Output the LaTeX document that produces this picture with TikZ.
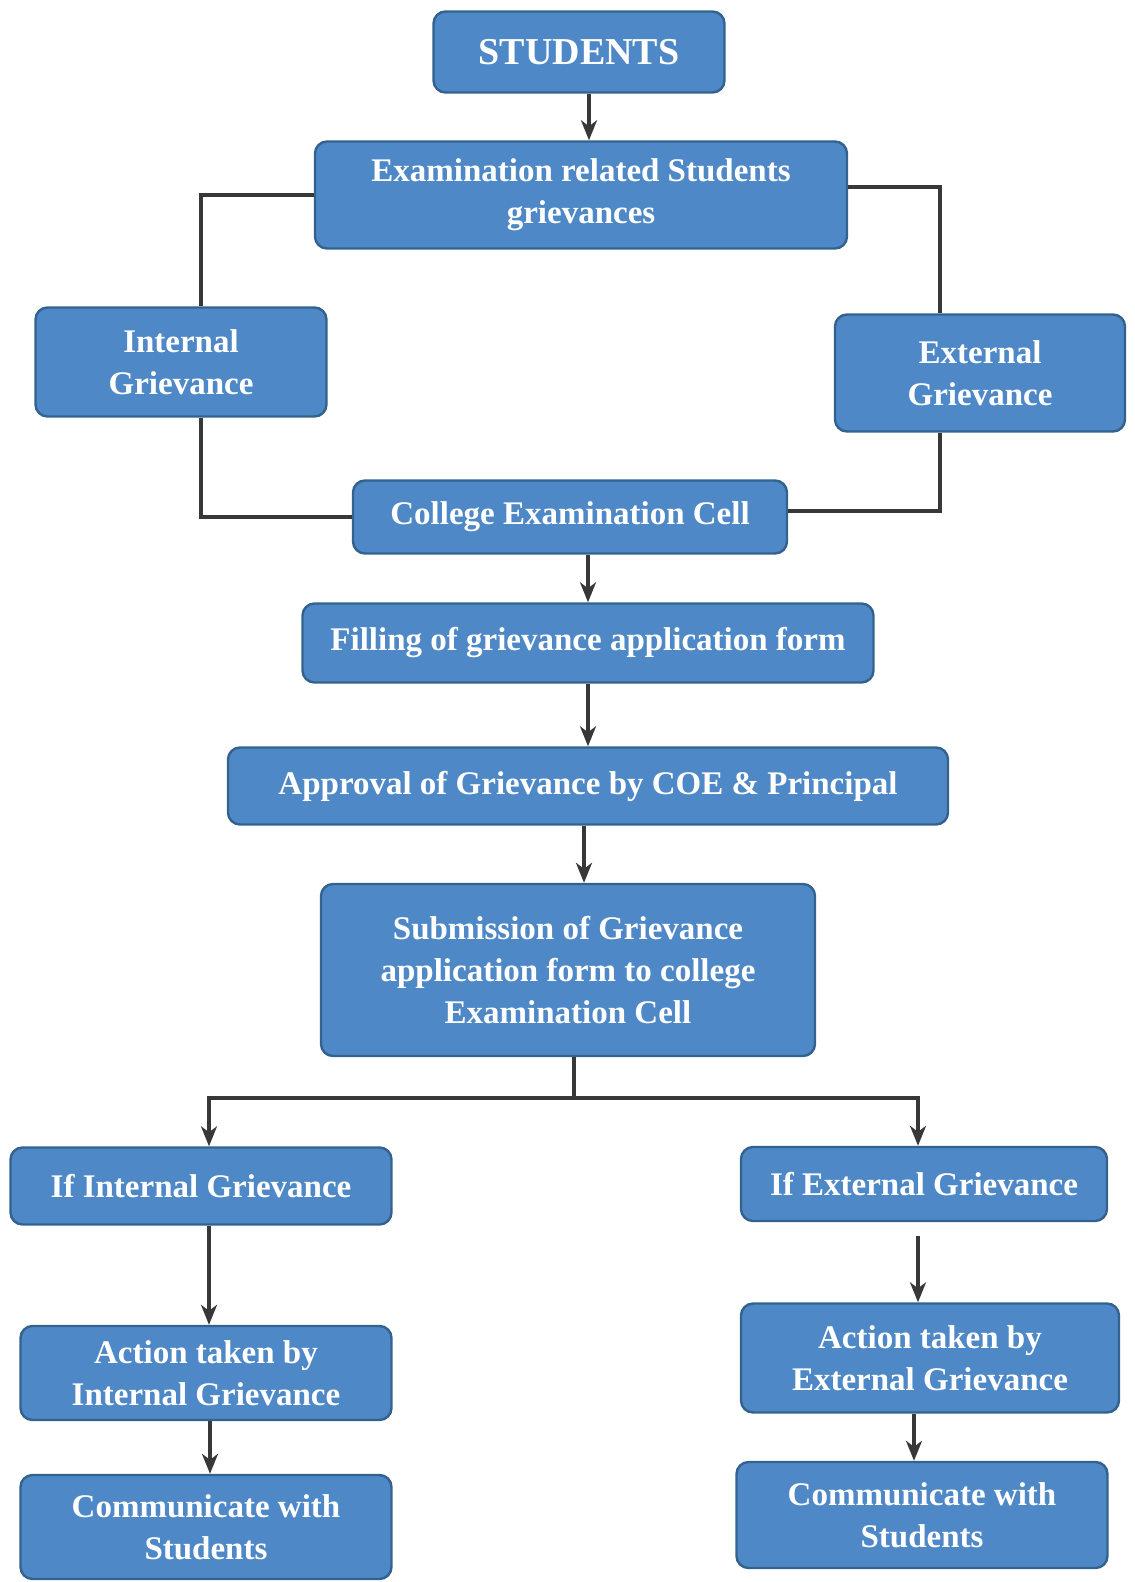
\documentclass[tikz,border=0pt]{standalone}
\usepackage{fontspec}
\setmainfont{Liberation Serif}
\usepackage{tikz}
\usetikzlibrary{arrows.meta}
\definecolor{boxBlue}{HTML}{4F88C6}
\definecolor{edgeBlue}{HTML}{33628F}
\definecolor{lineGray}{HTML}{383838}

\begin{document}
\begin{tikzpicture}[x=0.5pt,y=-0.5pt,
  box/.style={draw=edgeBlue,line width=1.2pt,fill=boxBlue,rounded corners=6pt,text=white,align=center,inner sep=2pt,font=\bfseries\fontsize{16.5}{21}\selectfont},
  link/.style={draw=lineGray,line width=1.6pt},
  arr/.style={link,-{Stealth[length=10pt,width=8pt,inset=3pt]}}]
\useasboundingbox (0,0) rectangle (1134,1582);
\node[box,minimum width=145.5pt,minimum height=40.5pt,font=\bfseries\fontsize{19}{24}\selectfont] (stud) at (579,52) {STUDENTS};
\node[box,minimum width=266pt,minimum height=53.5pt] (exam) at (581,195) {Examination related Students\\grievances};
\node[box,minimum width=145.5pt,minimum height=54.5pt] (intg) at (181,362) {Internal\\Grievance};
\node[box,minimum width=145pt,minimum height=58.5pt] (extg) at (980,373) {External\\Grievance};
\node[box,minimum width=217pt,minimum height=36.5pt] (cell) at (570,517) {College Examination Cell};
\node[box,minimum width=285.5pt,minimum height=39.5pt] (form) at (588,643) {Filling of grievance application form};
\node[box,minimum width=360pt,minimum height=38.5pt] (appr) at (588,786) {Approval of Grievance by COE \& Principal};
\node[box,minimum width=247pt,minimum height=86pt] (subm) at (568,970) {Submission of Grievance\\application form to college\\Examination Cell};
\node[box,minimum width=190.5pt,minimum height=38.5pt] (ifint) at (201,1186) {If Internal Grievance};
\node[box,minimum width=183pt,minimum height=37pt] (ifext) at (924,1184) {If External Grievance};
\node[box,minimum width=185.5pt,minimum height=47pt] (actint) at (206,1373) {Action taken by\\Internal Grievance};
\node[box,minimum width=189pt,minimum height=54.5pt] (actext) at (930,1358) {Action taken by\\External Grievance};
\node[box,minimum width=185.5pt,minimum height=52pt] (comint) at (206,1527) {Communicate with\\Students};
\node[box,minimum width=185.5pt,minimum height=53pt] (comext) at (922,1515) {Communicate with\\Students};
\coordinate (fork) at (574,1098);
\draw[arr] ([xshift=5pt]stud.south) -- ([xshift=5pt]stud.south |- exam.north);
\draw[link] (exam.west) -| ([xshift=10pt]intg.north);
\draw[link] ([yshift=4pt]exam.east) -| ([xshift=-20pt]extg.north);
\draw[link] ([xshift=10pt]intg.south) |- (cell.west);
\draw[link] ([xshift=-20pt]extg.south) |- ([yshift=3pt]cell.east);
\draw[arr] (form.north |- cell.south) -- (form.north);
\draw[arr] (appr.north |- form.south) -- (appr.north);
\draw[arr] ([xshift=-2pt]appr.south) -- ([xshift=-2pt]appr.south |- subm.north);
\draw[link] (fork |- subm.south) -- (fork);
\draw[arr] (fork) -| ([xshift=4pt]ifint.north);
\draw[arr] (fork) -| ([xshift=-3pt]ifext.north);
\draw[arr] ([xshift=4pt]ifint.south) -- ([xshift=4pt]ifint.south |- actint.north);
\draw[arr] ([xshift=-3pt,yshift=-7pt]ifext.south) -- ([xshift=-3pt]ifext.south |- actext.north);
\draw[arr] ([xshift=2pt]actint.south) -- ([xshift=2pt]actint.south |- comint.north);
\draw[arr] ([xshift=-8pt]actext.south) -- ([xshift=-8pt]actext.south |- comext.north);
\end{tikzpicture}
\end{document}
